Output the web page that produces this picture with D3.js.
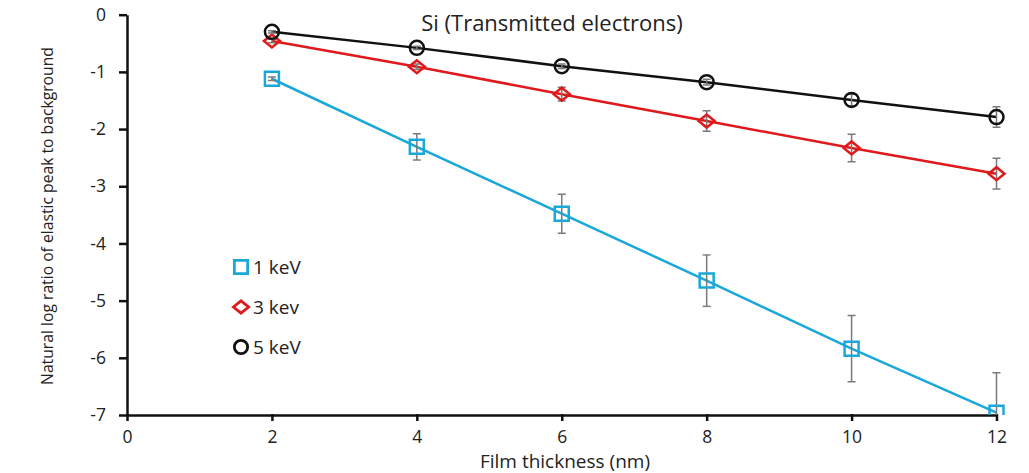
<!DOCTYPE html>
<html>
<head>
<meta charset="utf-8">
<script src="https://cdn.jsdelivr.net/npm/d3@7"></script>
<style>
  body { margin: 0; background: #fff; }
  text { font-family: "Open Sans", sans-serif; fill: #222; }
</style>
</head>
<body>
<div id="chart"></div>
<script>
// film thickness (nm)
var thickness = [2, 4, 6, 8, 10, 12];

// ln(elastic peak / background) and error bars
var kev1 = [-1.12, -2.31, -3.48, -4.65, -5.84, -6.96];
var kev1Err = [0.03, 0.23, 0.34, 0.45, 0.58, 0.70];
var kev3 = [-0.46, -0.91, -1.39, -1.86, -2.33, -2.78];
var kev3Err = [0.03, 0.05, 0.12, 0.18, 0.24, 0.27];
var kev5 = [-0.30, -0.58, -0.90, -1.18, -1.49, -1.79];
var kev5Err = [0.02, 0.03, 0.04, 0.05, 0.10, 0.18];

var xTicks = [0, 2, 4, 6, 8, 10, 12];
var yTicks = [0, -1, -2, -3, -4, -5, -6, -7];

const WIDTH = 1029;
const HEIGHT = 473;
const LEFT = 127, RIGHT = 996.5, TOP = 14.7, BOTTOM = 415;

var series = [
    { name: "1 keV", values: kev1, err: kev1Err, color: "#1aa7d9", shape: "square" },
    { name: "3 kev", values: kev3, err: kev3Err, color: "#e0191c", shape: "diamond" },
    { name: "5 keV", values: kev5, err: kev5Err, color: "#111111", shape: "circle" }
];

var svg = d3.select("#chart")
    .append("svg")
    .attr("width", WIDTH)
    .attr("height", HEIGHT);

var xScale = d3.scaleLinear().domain([0, 12]).range([LEFT, RIGHT]),
    yScale = d3.scaleLinear().domain([-7, 0]).range([BOTTOM, TOP]);

svg.append("defs").append("clipPath").attr("id", "plot")
    .append("rect")
    .attr("x", LEFT - 20).attr("y", TOP - 10)
    .attr("width", RIGHT - LEFT + 40).attr("height", BOTTOM - TOP + 10);

// axes
var xAxis = svg.append("g")
    .attr("transform", "translate(0," + BOTTOM + ")")
    .call(d3.axisBottom(xScale).tickValues(xTicks).tickSize(6).tickPadding(10).tickSizeOuter(0));
var yAxis = svg.append("g")
    .attr("transform", "translate(" + LEFT + ",0)")
    .call(d3.axisLeft(yScale).tickValues(yTicks).tickSize(8).tickPadding(13).tickSizeOuter(0)
        .tickFormat(function (d) { return d === 0 ? "0" : d; }));

[xAxis, yAxis].forEach(function (ax) {
    ax.select(".domain").attr("stroke", "#111").attr("stroke-width", 2.5);
    ax.selectAll(".tick line").attr("stroke", "#111").attr("stroke-width", 2.5);
    ax.selectAll(".tick text")
        .style("font-family", "'Open Sans', sans-serif")
        .style("font-size", "17.5px")
        .attr("fill", "#222");
});
xAxis.selectAll(".tick line").attr("y1", -1);

var line = d3.line()
    .x(function (d) { return xScale(d[0]); })
    .y(function (d) { return yScale(d[1]); });

var plot = svg.append("g").attr("clip-path", "url(#plot)");

series.forEach(function (s) {
    var pts = thickness.map(function (t, i) { return [t, s.values[i], s.err[i]]; });

    plot.append("path")
        .datum(pts)
        .attr("d", line)
        .attr("fill", "none")
        .attr("stroke", s.color)
        .attr("stroke-width", 2.5);

    // error bars
    var eb = plot.append("g").attr("stroke", "#7a7a7a").attr("stroke-width", 1.5);
    pts.forEach(function (p) {
        var x = xScale(p[0]), y1 = yScale(p[1] + p[2]), y2 = yScale(p[1] - p[2]);
        eb.append("line").attr("x1", x).attr("x2", x).attr("y1", y1).attr("y2", y2);
        eb.append("line").attr("x1", x - 4).attr("x2", x + 4).attr("y1", y1).attr("y2", y1);
        eb.append("line").attr("x1", x - 4).attr("x2", x + 4).attr("y1", y2).attr("y2", y2);
    });

    plot.append("g").selectAll("path.mark")
        .data(pts)
        .enter()
        .append("path")
        .attr("d", markerPath(s.shape, 1))
        .attr("transform", function (d) { return "translate(" + xScale(d[0]) + "," + yScale(d[1]) + ")"; })
        .attr("fill", "none")
        .attr("stroke", s.color)
        .attr("stroke-width", 2.5);
});

function markerPath(shape, k) {
    if (shape === "square") return "M" + (-7 * k) + "," + (-7 * k) + "h" + (14 * k) + "v" + (14 * k) + "h" + (-14 * k) + "Z";
    if (shape === "diamond") return "M" + (-8 * k) + ",0L0," + (-6.5 * k) + "L" + (8 * k) + ",0L0," + (6.5 * k) + "Z";
    var r = 7 * k;
    return "M" + (-r) + ",0A" + r + "," + r + " 0 1,0 " + r + ",0A" + r + "," + r + " 0 1,0 " + (-r) + ",0Z";
}

// legend
var legend = svg.append("g");
series.forEach(function (s, i) {
    var y = 267 + i * 40;
    legend.append("path")
        .attr("d", markerPath(s.shape, 0.95))
        .attr("transform", "translate(241," + y + ")")
        .attr("fill", "none")
        .attr("stroke", s.color)
        .attr("stroke-width", 2.8);
    legend.append("text")
        .attr("x", 253)
        .attr("y", y + 6.5)
        .style("font-size", "19px")
        .text(s.name);
});

// title and axis labels
svg.append("text")
    .attr("x", 552)
    .attr("y", 31)
    .attr("text-anchor", "middle")
    .style("font-size", "22px")
    .text("Si (Transmitted electrons)");

svg.append("text")
    .attr("x", 565)
    .attr("y", 468)
    .attr("text-anchor", "middle")
    .style("font-size", "19px")
    .text("Film thickness (nm)");

svg.append("text")
    .attr("transform", "translate(53,216) rotate(-90)")
    .attr("text-anchor", "middle")
    .style("font-size", "15.7px")
    .text("Natural log ratio of elastic peak to background");
</script>
</body>
</html>
